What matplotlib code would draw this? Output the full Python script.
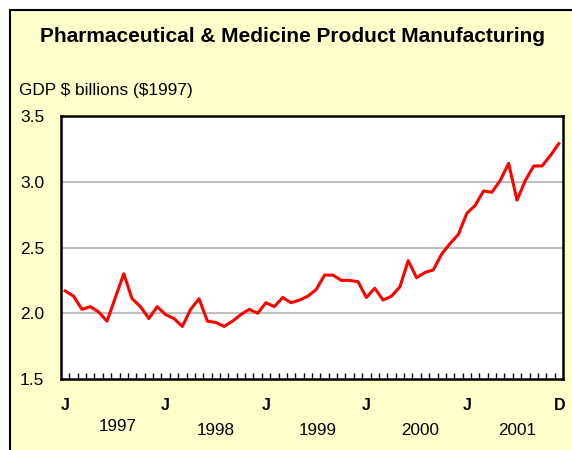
import numpy as np
import matplotlib
matplotlib.use('Agg')
import matplotlib.pyplot as plt
from matplotlib.patches import Rectangle

plt.rcParams['font.family'] = ['Liberation Sans', 'DejaVu Sans']

# monthly GDP, Jan 1997 - Dec 2001 ($ billions, 1997)
gdp = [2.17, 2.13, 2.03, 2.05, 2.01, 1.94, 2.12, 2.30, 2.11, 2.05, 1.96, 2.05,
       1.99, 1.96, 1.90, 2.03, 2.11, 1.94, 1.93, 1.90, 1.94, 1.99, 2.03, 2.00,
       2.08, 2.05, 2.12, 2.08, 2.10, 2.13, 2.18, 2.29, 2.29, 2.25, 2.25, 2.24,
       2.12, 2.19, 2.10, 2.13, 2.20, 2.40, 2.27, 2.31, 2.33, 2.45, 2.53, 2.60,
       2.76, 2.82, 2.93, 2.92, 3.01, 3.14, 2.86, 3.01, 3.12, 3.12, 3.20, 3.29]
years = ['1997', '1998', '1999', '2000', '2001']
month_labels = ['J', 'J', 'J', 'J', 'J', 'D']
month_pos = [0, 12, 24, 36, 48, 59.1]
year_pos = [6.3, 18.0, 30.2, 42.4, 54.0]
year_y = [1.135, 1.108, 1.108, 1.108, 1.108]

W, H = 572, 450
fig = plt.figure(figsize=(W / 100, H / 100), dpi=100, facecolor='white')

# yellow panel with black frame
fig.patches.append(Rectangle((10 / W, -0.1), 1.2, 1 - 10 / H + 0.1,
                             transform=fig.transFigure, facecolor='#FFFFCC',
                             edgecolor='black', linewidth=1.5, zorder=-5))

ax = fig.add_axes([61 / W, 1 - 379 / H, 502 / W, 263 / H])
ax.set_facecolor('white')
x = np.arange(len(gdp))
ax.plot(x, gdp, color='#FF0000', linewidth=2.2, zorder=3)

ax.set_xlim(-0.5, 59.5)
ax.set_ylim(1.5, 3.5)
ax.set_yticks([1.5, 2.0, 2.5, 3.0, 3.5])
ax.set_yticklabels(['1.5', '2.0', '2.5', '3.0', '3.5'], fontsize=12.5)
ax.tick_params(axis='y', length=0, pad=12)
ax.set_xticks(np.arange(0.5, 59, 1))
ax.set_xticklabels([])
ax.tick_params(axis='x', direction='in', length=4, width=1, color='black')
for yv in [2.0, 2.5, 3.0]:
    ax.axhline(yv, color='#C0C0C0', linewidth=1.5, zorder=1)
for s in ax.spines.values():
    s.set_linewidth(1.8)
    s.set_color('black')

for p, lab in zip(month_pos, month_labels):
    ax.text(p, 1.5 - 0.198, lab, ha='center', va='center', fontsize=11.5,
            fontweight='bold')
for p, yl, yy in zip(year_pos, years, year_y):
    ax.text(p, yy, yl, ha='center', va='center', fontsize=12.3)

fig.text(292 / W, 1 - 36 / H, 'Pharmaceutical & Medicine Product Manufacturing',
         ha='center', va='center', fontsize=15, fontweight='bold')
fig.text(19 / W, 1 - 90 / H, r'GDP \$ billions (\$1997)', ha='left', va='center',
         fontsize=12.4)

fig.savefig('out.png', dpi=100, facecolor='white')
